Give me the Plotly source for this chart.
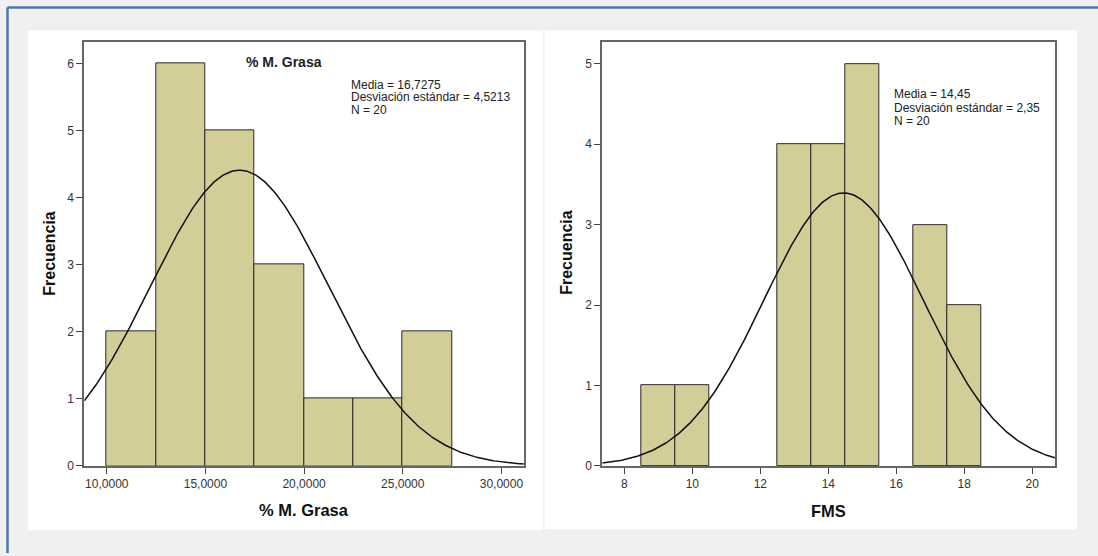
import numpy as np
import plotly.graph_objects as go

W, H = 1098, 556

# ---------------- data ----------------
grasa_bin_edges = [10.0, 12.5, 15.0, 17.5, 20.0, 22.5, 25.0, 27.5]
grasa_counts = [2, 6, 5, 3, 1, 1, 2]
grasa_mean, grasa_sd, grasa_n = 16.7275, 4.5213, 20
grasa_ticks = [10, 15, 20, 25, 30]
grasa_ticktext = ["10,0000", "15,0000", "20,0000", "25,0000", "30,0000"]

fms_bin_edges = [8.5, 9.5, 10.5, 11.5, 12.5, 13.5, 14.5, 15.5, 16.5, 17.5, 18.5]
fms_counts = [1, 1, 0, 0, 4, 4, 5, 0, 3, 2]
fms_mean, fms_sd, fms_n = 14.45, 2.35, 20
fms_ticks = [8, 10, 12, 14, 16, 18, 20]
fms_ticktext = ["8", "10", "12", "14", "16", "18", "20"]

FONT = "Arial, Liberation Sans, sans-serif"
BAR = "#d3ce97"


def px_x(x):
    return x / W


def px_y(y):
    return 1 - y / H


def normal_curve(mean, sd, n, bw, lo, hi):
    xs = np.linspace(lo, hi, 300)
    ys = n * bw / (sd * np.sqrt(2 * np.pi)) * np.exp(-0.5 * ((xs - mean) / sd) ** 2)
    return xs, ys


def bars(edges, counts):
    e = np.array(edges)
    c = np.array(counts)
    keep = c > 0
    centers = ((e[:-1] + e[1:]) / 2)[keep]
    widths = np.diff(e)[keep]
    return centers, c[keep], widths


fig = go.Figure()

# left histogram
bx, by, bw = bars(grasa_bin_edges, grasa_counts)
fig.add_trace(go.Bar(
    x=bx, y=by, width=bw,
    marker=dict(color=BAR, line=dict(color="#2a2a2a", width=1)),
    xaxis="x", yaxis="y", showlegend=False, hoverinfo="x+y"))
gx_range = [8.86, 31.14]
cx, cy = normal_curve(grasa_mean, grasa_sd, grasa_n, 2.5, *gx_range)
fig.add_trace(go.Scatter(x=cx, y=cy, mode="lines", line=dict(color="#111", width=1.5),
                         xaxis="x", yaxis="y", showlegend=False))

# right histogram
bx2, by2, bw2 = bars(fms_bin_edges, fms_counts)
fig.add_trace(go.Bar(
    x=bx2, y=by2, width=bw2,
    marker=dict(color=BAR, line=dict(color="#2a2a2a", width=1)),
    xaxis="x2", yaxis="y2", showlegend=False, hoverinfo="x+y"))
fx_range = [7.35, 20.67]
cx2, cy2 = normal_curve(fms_mean, fms_sd, fms_n, 1.0, *fx_range)
fig.add_trace(go.Scatter(x=cx2, y=cy2, mode="lines", line=dict(color="#111", width=1.5),
                         xaxis="x2", yaxis="y2", showlegend=False))

axis_common = dict(showgrid=False, zeroline=False, showline=True, mirror=True,
                   linecolor="#666666", linewidth=2, ticks="outside", ticklen=6,
                   tickwidth=1, tickcolor="#444444",
                   tickfont=dict(family=FONT, size=12, color="#333333"))

fig.update_layout(
    width=W, height=H,
    margin=dict(l=0, r=0, t=0, b=0),
    paper_bgcolor="#f0f0f0",
    plot_bgcolor="#f0f0f0",
    bargap=0,
    xaxis=dict(domain=[px_x(84.3), px_x(523.9)], range=gx_range, anchor="y",
               tickvals=grasa_ticks, ticktext=grasa_ticktext, **axis_common),
    yaxis=dict(domain=[px_y(471.8), px_y(42.9)], range=[0, 6.32], anchor="x",
               tickvals=[0, 1, 2, 3, 4, 5, 6], **axis_common),
    xaxis2=dict(domain=[px_x(602.3), px_x(1055)], range=fx_range, anchor="y2",
                tickvals=fms_ticks, ticktext=fms_ticktext, **axis_common),
    yaxis2=dict(domain=[px_y(471.9), px_y(42.7)], range=[0, 5.27], anchor="x2",
                tickvals=[0, 1, 2, 3, 4, 5], **axis_common),
)

shapes = [
    # white panels
    dict(type="rect", xref="paper", yref="paper", layer="below",
         x0=px_x(27.9), x1=px_x(543), y0=px_y(537), y1=px_y(31),
         fillcolor="white", line=dict(width=0)),
    dict(type="rect", xref="paper", yref="paper", layer="below",
         x0=px_x(544.5), x1=px_x(1077), y0=px_y(536), y1=px_y(31),
         fillcolor="white", line=dict(width=0)),
    # blue frame
    dict(type="line", xref="paper", yref="paper",
         x0=px_x(7.5), x1=px_x(1100), y0=px_y(7.5), y1=px_y(7.5),
         line=dict(color="#4a78ac", width=2.5)),
    dict(type="line", xref="paper", yref="paper",
         x0=px_x(7.5), x1=px_x(7.5), y0=px_y(7.5), y1=px_y(560),
         line=dict(color="#4a78ac", width=2.5)),
]
fig.update_layout(shapes=shapes)

ann = []


def text(x, y, s, size=12, bold=False, angle=0, xanchor="center", color="#222222"):
    ann.append(dict(xref="paper", yref="paper", x=px_x(x), y=px_y(y),
                    text=f"<b>{s}</b>" if bold else s, showarrow=False,
                    xanchor=xanchor, yanchor="middle", textangle=angle,
                    font=dict(family=FONT, size=size, color=color)))


# left panel texts
text(284, 62.5, "% M. Grasa", size=14, bold=True)
text(349, 85.7, f"Media = {str(grasa_mean).replace('.', ',')}", xanchor="left")
text(349, 98.6, f"Desviación estándar = {str(grasa_sd).replace('.', ',')}", xanchor="left")
text(349, 111.4, f"N = {grasa_n}", xanchor="left")
text(50, 257, "Frecuencia", size=16, bold=True, angle=-90, color="#111")
text(304, 516, "% M. Grasa", size=16.5, bold=True, color="#111")

# right panel texts
text(892, 95.4, f"Media = {str(fms_mean).replace('.', ',')}", xanchor="left")
text(892, 108.9, f"Desviación estándar = {str(fms_sd).replace('.', ',')}", xanchor="left")
text(892, 122.4, f"N = {fms_n}", xanchor="left")
text(567, 256, "Frecuencia", size=16, bold=True, angle=-90, color="#111")
text(828.6, 518, "FMS", size=16.5, bold=True, color="#111")

fig.update_layout(annotations=ann)

fig.write_html(
    "out.html",
    config={"displayModeBar": False},
    post_script="document.body.style.margin='0';document.body.style.background='#f0f0f0';",
)
